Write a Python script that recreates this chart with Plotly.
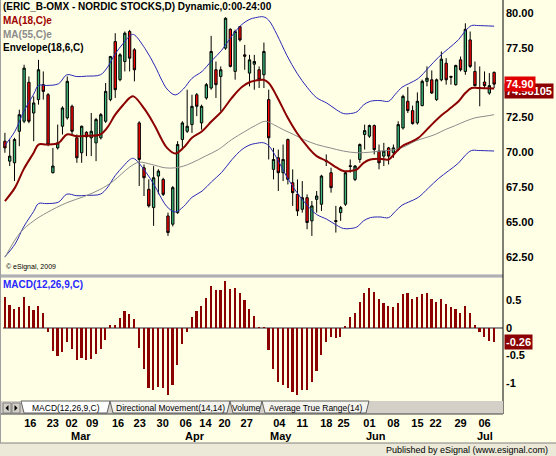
import plotly.graph_objects as go

# ERIC B (OMX) daily bars, Feb - Jul 2009
opens = [70.81, 69.38, 69.26, 71.52, 72.24, 75.03, 72.83, 73.79, 74.86, 74.14,
         68.55, 70.33, 71.88, 72.48, 73.31, 71.05, 69.98, 71.45, 71.05, 70.69,
         71.05, 72.24, 73.79, 77.95, 75.22, 76.52, 78.67, 77.36, 72.12, 68.90,
         67.36, 66.05, 68.31, 68.07, 65.45, 64.86, 65.69, 70.93, 71.52, 72.00,
         74.14, 72.12, 73.91, 74.62, 75.93, 75.45, 77.48, 78.83, 75.81, 79.02,
         77.00, 75.69, 76.33, 75.93, 75.57, 73.79, 68.79, 69.62, 68.55, 70.93,
         67.83, 67.00, 65.93, 66.76, 65.10, 66.64, 66.29, 69.40, 68.55, 65.12,
         65.69, 66.29, 69.05, 68.07, 69.50, 71.29, 71.17, 71.93, 70.10, 69.74,
         70.33, 69.98, 70.21, 71.76, 73.67, 73.00, 72.12, 73.36, 75.10, 75.21,
         73.79, 75.21, 76.40, 75.45, 74.86, 76.64, 75.81, 78.07, 75.81, 74.64,
         75.05, 74.26, 75.74]
highs = [71.41, 70.93, 71.05, 73.07, 76.29, 75.45, 74.02, 76.64, 75.81, 74.26,
         70.33, 72.00, 73.31, 75.45, 73.43, 71.29, 71.93, 71.52, 72.83, 72.48,
         72.83, 74.98, 76.93, 78.55, 77.12, 78.67, 78.79, 77.48, 72.24, 69.14,
         68.07, 69.02, 68.80, 68.19, 65.69, 67.60, 70.81, 72.24, 74.50, 74.14,
         74.26, 73.43, 74.98, 78.36, 76.52, 76.17, 79.69, 78.90, 78.80, 79.07,
         77.71, 77.00, 77.00, 76.17, 77.88, 74.50, 70.33, 70.21, 70.57, 71.00,
         68.79, 68.07, 67.95, 67.00, 66.52, 67.24, 68.40, 69.86, 68.91, 66.17,
         66.17, 68.67, 69.50, 69.10, 70.65, 72.00, 72.00, 72.00, 70.57, 70.69,
         70.40, 70.57, 72.24, 74.14, 74.69, 73.36, 74.31, 75.22, 76.17, 75.88,
         75.30, 77.24, 76.76, 75.50, 76.29, 76.88, 79.26, 78.67, 76.52, 76.17,
         75.81, 75.69, 75.81]
lows = [69.98, 69.03, 67.95, 70.45, 72.10, 72.10, 70.81, 73.43, 73.79, 70.45,
        68.50, 70.21, 71.29, 72.36, 71.29, 69.26, 69.26, 69.74, 69.74, 69.38,
        70.93, 72.12, 73.67, 73.91, 75.10, 75.81, 75.81, 75.10, 67.60, 66.88,
        66.05, 64.74, 67.00, 66.88, 64.02, 64.70, 65.60, 70.21, 71.40, 71.40,
        72.60, 71.64, 73.79, 74.50, 73.91, 72.95, 77.36, 76.10, 75.22, 77.95,
        75.93, 74.74, 74.50, 74.62, 74.62, 69.50, 68.07, 67.24, 67.95, 67.71,
        66.17, 65.45, 65.69, 64.50, 64.02, 65.69, 65.81, 69.03, 67.12, 64.26,
        65.10, 66.17, 68.55, 67.95, 69.26, 70.21, 71.05, 69.86, 68.79, 69.03,
        69.14, 69.62, 70.10, 71.64, 72.83, 72.00, 72.00, 73.31, 74.74, 74.20,
        73.70, 75.10, 74.86, 74.86, 74.79, 75.81, 75.57, 76.05, 74.74, 73.31,
        74.62, 74.14, 74.62]
closes = [70.33, 69.74, 70.93, 72.71, 76.05, 72.24, 73.55, 75.93, 74.38, 70.57,
          69.03, 70.69, 73.19, 75.10, 71.52, 69.62, 71.88, 71.12, 71.52, 72.36,
          72.71, 74.38, 76.88, 74.50, 77.00, 78.55, 76.76, 75.93, 69.50, 68.19,
          66.17, 68.19, 68.67, 67.00, 64.26, 67.48, 70.57, 72.12, 71.88, 73.31,
          73.31, 73.31, 74.86, 77.24, 74.86, 75.93, 79.62, 76.17, 78.67, 78.07,
          76.90, 76.64, 76.52, 75.21, 77.24, 71.05, 69.50, 68.55, 69.50, 68.07,
          67.12, 65.81, 66.76, 64.98, 66.17, 66.88, 68.31, 69.36, 67.48, 65.05,
          66.05, 68.55, 69.00, 69.03, 70.57, 71.57, 71.93, 70.21, 69.26, 70.10,
          69.74, 70.33, 72.00, 74.02, 73.00, 72.07, 73.67, 75.10, 75.33, 74.26,
          75.21, 76.69, 75.21, 75.40, 76.24, 75.93, 78.83, 76.17, 74.79, 74.60,
          74.79, 74.79, 74.90]

# moving averages read at points along the curves (x = bar number)
ma18_idx = [0, 2.1, 3.9, 6, 7, 8.75, 11.2, 12.9, 15, 17, 19.9, 21.3, 23, 24.7, 26,
            26.8, 29.2, 31.3, 32.7, 33.8, 35.5, 37.2, 39, 41.1, 43.1, 45.2, 47.3,
            49.4, 51.1, 52.2, 53.9, 55, 56.7, 58.8, 60.9, 63, 65, 67.1, 69.2, 70.6,
            72, 73.4, 74.8, 76.2, 78.2, 80, 81.4, 82.8, 84.2, 86.2, 88.3, 90.4,
            92.5, 94.6, 96, 97.3, 98.7, 102]
ma18 = [66.52, 67.48, 68.79, 69.98, 70.57, 70.57, 70.69, 71.29, 71.17, 71.20, 71.29,
        71.76, 72.71, 73.43, 73.91, 74.02, 73.07, 71.88, 70.93, 70.33, 69.93, 70.33,
        71.05, 71.52, 72.24, 72.95, 73.91, 74.69, 75.05, 75.15, 75.21, 74.98, 74.02,
        72.60, 71.40, 70.45, 69.74, 69.38, 68.91, 68.67, 68.67, 68.79, 69.26, 69.50,
        69.55, 69.50, 69.98, 70.45, 70.69, 71.05, 71.76, 72.48, 73.07, 73.67, 74.26,
        74.62, 74.62, 74.58]
ma55_idx = [0, 3.2, 6, 8.75, 12.9, 16.4, 19.9, 22.6, 26, 27.9, 30.6, 33.4, 35.5,
            37.2, 39, 41.8, 44.5, 47.3, 50.1, 52.2, 54.3, 56, 58, 60.2, 62.3, 65,
            67.8, 70.6, 73.4, 76.1, 78.2, 81.4, 83.5, 85.5, 87.6, 89.7, 91.8, 93.9,
            96, 98, 100.1, 102]
ma55 = [62.48, 64.26, 65.10, 65.69, 66.40, 66.83, 67.36, 67.95, 68.95, 69.30, 69.14,
        68.90, 68.90, 69.02, 69.26, 69.74, 70.21, 70.93, 71.52, 71.93, 72.24, 72.00,
        71.64, 71.29, 70.93, 70.57, 70.33, 70.10, 69.98, 70.02, 70.10, 70.21, 70.45,
        70.81, 71.05, 71.29, 71.64, 71.93, 72.24, 72.48, 72.60, 72.71]

macd_hist = [0.57, 0.41, 0.35, 0.38, 0.57, 0.39, 0.33, 0.39, 0.28, -0.07,
             -0.42, -0.52, -0.44, -0.25, -0.39, -0.58, -0.55, -0.58, -0.56, -0.47,
             -0.38, -0.22, 0.05, 0.05, 0.18, 0.30, 0.26, 0.16, -0.36, -0.75,
             -1.10, -1.13, -1.07, -1.09, -1.22, -1.03, -0.68, -0.30, -0.07, 0.19,
             0.30, 0.40, 0.55, 0.76, 0.69, 0.69, 0.85, 0.70, 0.72, 0.64,
             0.51, 0.34, 0.21, 0.01, 0.01, -0.40, -0.75, -0.99, -1.03, -1.10,
             -1.16, -1.22, -1.13, -1.13, -0.98, -0.78, -0.50, -0.25, -0.17, -0.19,
             -0.17, 0.04, 0.19, 0.28, 0.47, 0.63, 0.73, 0.65, 0.52, 0.45,
             0.40, 0.38, 0.45, 0.61, 0.63, 0.52, 0.56, 0.61, 0.64, 0.53,
             0.48, 0.53, 0.44, 0.38, 0.35, 0.27, 0.39, 0.27, 0.06, -0.08,
             -0.17, -0.23, -0.26]

# week labels and where they sit (bar number)
day_labels = ["16", "23", "02", "09", "16", "23", "30", "06", "14", "20", "27",
              "04", "11", "18", "25", "01", "08", "15", "22", "29", "06"]
day_pos = [5.3, 10, 13.9, 18.2, 23.6, 28.1, 32.9, 37.7, 41.8, 45.8, 50.4,
           57.2, 62, 67, 70.6, 76, 81, 86, 89.8, 95, 100]
month_labels = ["Mar", "Apr", "May", "Jun", "Jul"]
month_pos = [15.9, 39.6, 57.6, 77.4, 100]

tabs = ["MACD(12,26,9,C)", "Directional Movement(14,14)", "Volume", "Average True Range(14)"]

W, H = 556, 456
BG = "#FFFFE6"
FONT = "Arial, Liberation Sans, sans-serif"


def fx(px):
    return px / W


def fy(py):
    return 1 - py / H


bars = list(range(len(closes)))
env_up = [v * 1.06 for v in ma18]
env_dn = [v * 0.94 for v in ma18]

fig = go.Figure()

fig.add_trace(go.Scatter(x=ma18_idx, y=env_up, mode="lines", line=dict(color="#2828B4", width=1, shape="spline"),
                         hoverinfo="skip"))
fig.add_trace(go.Scatter(x=ma18_idx, y=env_dn, mode="lines", line=dict(color="#2828B4", width=1, shape="spline"),
                         hoverinfo="skip"))
fig.add_trace(go.Scatter(x=ma55_idx, y=ma55, mode="lines", line=dict(color="#8C8C8C", width=1, shape="spline"),
                         hoverinfo="skip"))
fig.add_trace(go.Scatter(x=ma18_idx, y=ma18, mode="lines", line=dict(color="#8B0000", width=2, shape="spline"),
                         hoverinfo="skip"))
fig.add_trace(go.Candlestick(
    x=bars, open=opens, high=highs, low=lows, close=closes,
    increasing=dict(fillcolor="#3CB878", line=dict(color="#000000", width=1)),
    decreasing=dict(fillcolor="#FF0000", line=dict(color="#000000", width=1)),
    whiskerwidth=0,
))
fig.add_trace(go.Bar(x=bars, y=macd_hist, width=0.35, marker=dict(color="#8B0000", line=dict(width=0)),
                     xaxis="x2", yaxis="y2"))

xdom = [fx(3), fx(503)]
xr = [-0.4, 103.85]
tickfont = dict(family=FONT, size=11, color="black", weight="bold")

fig.update_layout(
    width=W, height=H,
    margin=dict(l=0, r=0, t=0, b=0),
    paper_bgcolor=BG, plot_bgcolor=BG,
    showlegend=False,
    bargap=0,
    xaxis=dict(domain=xdom, range=xr, anchor="y", showticklabels=False, ticks="",
               showgrid=False, zeroline=False, rangeslider=dict(visible=False)),
    yaxis=dict(domain=[fy(274), 1], range=[61.29, 80.93], anchor="x", side="right",
               tickvals=[62.5, 65, 67.5, 70, 72.5, 75, 77.5, 80], tickformat=".2f",
               ticks="", showgrid=False, zeroline=False, tickfont=tickfont, ticklabelstandoff=2),
    xaxis2=dict(domain=xdom, range=xr, anchor="y2", matches="x", tickvals=day_pos, ticktext=day_labels,
                tickangle=0, ticks="", showgrid=False, zeroline=False, tickfont=tickfont,
                ticklabelstandoff=14),
    yaxis2=dict(domain=[fy(401), fy(279)], range=[-1.33, 0.89], anchor="x2", side="right",
                tickvals=[-1, -0.5, 0, 0.5], ticktext=["-1", "-0.5", "0", "0.5"], ticks="",
                showgrid=False, zeroline=True, zerolinecolor="#909090", zerolinewidth=2,
                tickfont=tickfont, ticklabelstandoff=2),
)

shapes = [
    # panel separator
    dict(type="rect", xref="paper", yref="paper", x0=0, x1=fx(503), y0=fy(274), y1=fy(278),
         fillcolor="#D0D0D0", line=dict(width=0)),
    dict(type="line", xref="paper", yref="paper", x0=0, x1=fx(503), y0=fy(276), y1=fy(276),
         line=dict(color="#909090", width=1)),
    # right axis line
    dict(type="line", xref="paper", yref="paper", x0=fx(503), x1=fx(503), y0=fy(0), y1=fy(414),
         line=dict(color="black", width=1)),
    # tab strip
    dict(type="rect", xref="paper", yref="paper", x0=0, x1=fx(503), y0=fy(414), y1=fy(401),
         fillcolor="#D4D0C8", line=dict(width=0)),
    dict(type="line", xref="paper", yref="paper", x0=0, x1=fx(503), y0=fy(414), y1=fy(414),
         line=dict(color="#404040", width=1)),
    # scroll buttons
    dict(type="rect", xref="paper", yref="paper", x0=fx(3), x1=fx(11), y0=fy(413), y1=fy(403),
         fillcolor="#D4D0C8", line=dict(color="#808080", width=1)),
    dict(type="rect", xref="paper", yref="paper", x0=fx(12), x1=fx(20), y0=fy(413), y1=fy(403),
         fillcolor="#D4D0C8", line=dict(color="#808080", width=1)),
    dict(type="path", xref="paper", yref="paper",
         path=f"M {fx(8.5)} {fy(405)} L {fx(5.5)} {fy(408)} L {fx(8.5)} {fy(411)} Z",
         fillcolor="black", line=dict(width=0)),
    dict(type="path", xref="paper", yref="paper",
         path=f"M {fx(14.5)} {fy(405)} L {fx(17.5)} {fy(408)} L {fx(14.5)} {fy(411)} Z",
         fillcolor="black", line=dict(width=0)),
    # status bar
    dict(type="rect", xref="paper", yref="paper", x0=0, x1=1, y0=0, y1=fy(443),
         fillcolor="#ECE9D8", line=dict(width=0)),
    dict(type="line", xref="paper", yref="paper", x0=0, x1=1, y0=fy(443), y1=fy(443),
         line=dict(color="#808080", width=1)),
    dict(type="line", xref="paper", yref="paper", x0=fx(0.5), x1=fx(0.5), y0=fy(0), y1=fy(443),
         line=dict(color="#A0A0A0", width=1)),
]

# tab outlines
tab_x = [21, 110, 230, 262, 369]
for i, name in enumerate(tabs):
    x0, x1 = tab_x[i], tab_x[i + 1]
    shapes.append(dict(type="path", xref="paper", yref="paper",
                       path=f"M {fx(x0)} {fy(401)} L {fx(x0 + 3)} {fy(413)} L {fx(x1 - 3)} {fy(413)} L {fx(x1)} {fy(401)} Z",
                       fillcolor="#FFFFFF" if i == 0 else "#F4F3EE", line=dict(color="#606060", width=1)))

annotations = []
legend_lines = [
    ("(ERIC_B-OMX - NORDIC STOCKS,D) Dynamic,0:00-24:00", "black", 7),
    ("MA(18,C)e", "#A00000", 20.5),
    ("MA(55,C)e", "#8C8C8C", 34),
    ("Envelope(18,6,C)", "black", 47),
]
for text, col, py in legend_lines:
    annotations.append(dict(text=text, xref="paper", yref="paper", x=fx(1), y=fy(py), xanchor="left",
                            yanchor="middle", showarrow=False,
                            font=dict(family=FONT, size=10, color=col, weight="bold")))

annotations.append(dict(text="MACD(12,26,9,C)", xref="paper", yref="paper", x=fx(1), y=fy(284),
                        xanchor="left", yanchor="middle", showarrow=False,
                        font=dict(family=FONT, size=10, color="#2828FF", weight="bold")))
annotations.append(dict(text="© eSignal, 2009", xref="paper", yref="paper", x=fx(4), y=fy(267),
                        xanchor="left", yanchor="middle", showarrow=False,
                        font=dict(family=FONT, size=7, color="black")))

for i, name in enumerate(tabs):
    annotations.append(dict(text=name, xref="paper", yref="paper", x=fx((tab_x[i] + tab_x[i + 1]) / 2),
                            y=fy(407.5), xanchor="center", yanchor="middle", showarrow=False,
                            font=dict(family=FONT, size=8.5, color="black")))

for m, pos in zip(month_labels, month_pos):
    annotations.append(dict(text=m, xref="x2", yref="paper", x=pos, y=fy(436), xanchor="center",
                            yanchor="middle", showarrow=False, font=tickfont))

annotations.append(dict(text="Published by eSignal (www.esignal.com)", xref="paper", yref="paper",
                        x=fx(550), y=fy(449.5), xanchor="right", yanchor="middle", showarrow=False,
                        font=dict(family=FONT, size=9, color="black")))

# last-value labels on the right axis (the price label sits on top of the MA label, as in eSignal)
annotations.append(dict(text="74.58105", xref="paper", yref="y", x=fx(504), y=ma18[-1], yshift=-2,
                        xanchor="left", yanchor="middle", showarrow=False, bgcolor="#8B0000", borderpad=1,
                        font=dict(family=FONT, size=11, color="white", weight="bold")))
annotations.append(dict(text=f"{closes[-1]:.2f}", xref="paper", yref="y", x=fx(504), y=closes[-1],
                        xanchor="left", yanchor="middle", showarrow=False, bgcolor="#E00000", borderpad=1,
                        font=dict(family=FONT, size=11, color="white", weight="bold")))
annotations.append(dict(text=f"{macd_hist[-1]:.2f}", xref="paper", yref="y2", x=fx(504), y=macd_hist[-1],
                        xanchor="left", yanchor="middle", showarrow=False, bgcolor="#8B0000", borderpad=1,
                        font=dict(family=FONT, size=11, color="white", weight="bold")))

fig.update_layout(shapes=shapes, annotations=annotations)

# the page body has a default 8px margin; drop it so the chart fills the window like the screenshot
fig.write_html("out.html", config={"displayModeBar": False},
               post_script="document.body.style.margin='0px';")
